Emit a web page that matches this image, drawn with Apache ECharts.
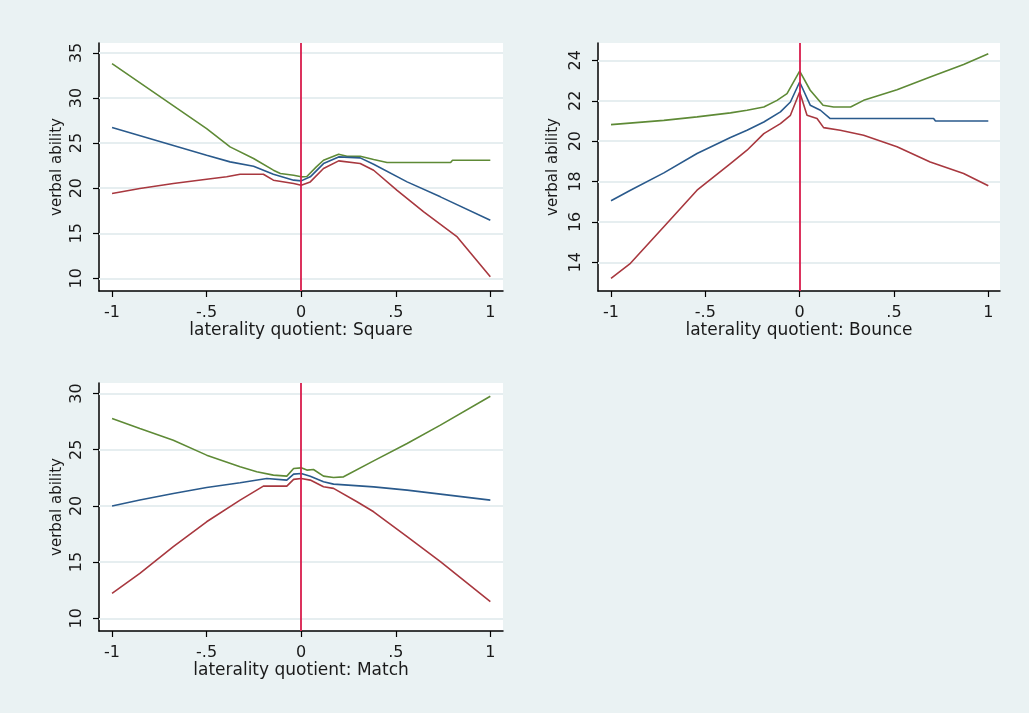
<!DOCTYPE html>
<html>
<head>
<meta charset="utf-8">
<script src="https://cdn.jsdelivr.net/npm/echarts@6/dist/echarts.min.js"></script>
<style>
html,body{margin:0;padding:0;background:#eaf2f3;}
#c{width:1029px;height:713px;}
</style>
</head>
<body>
<div id="c"></div>
<script>
// ---- data ----
const xTicks = [-1, -0.5, 0, 0.5, 1];
const xTickLabels = ['-1', '-.5', '0', '.5', '1'];
const yTicksSquare = [10, 15, 20, 25, 30, 35];
const yTicksBounce = [14, 16, 18, 20, 22, 24];
const yTicksMatch = [10, 15, 20, 25, 30];
const panelTitles = ['laterality quotient: Square', 'laterality quotient: Bounce', 'laterality quotient: Match'];
const yTitle = 'verbal ability';

const squareGreen = [[-1,33.82],[-0.5,26.61],[-0.376,24.58],[-0.252,23.29],[-0.147,22.0],[-0.11,21.63],[-0.04,21.44],[0,21.26],[0.03,21.3],[0.08,22.36],[0.118,23.1],[0.198,23.77],[0.242,23.55],[0.312,23.55],[0.383,23.18],[0.454,22.85],[0.79,22.85],[0.8,23.1],[1,23.1]];
const squareBlue = [[-1,26.73],[-0.5,23.66],[-0.376,22.92],[-0.252,22.44],[-0.147,21.55],[-0.04,20.89],[0,20.81],[0.048,21.26],[0.118,22.73],[0.198,23.47],[0.312,23.36],[0.383,22.66],[0.56,20.7],[0.736,19.04],[1,16.45]];
const squareRed = [[-1,19.41],[-0.853,19.96],[-0.676,20.52],[-0.5,21.0],[-0.394,21.26],[-0.323,21.55],[-0.2,21.55],[-0.147,20.89],[-0.04,20.52],[0,20.33],[0.048,20.7],[0.118,22.18],[0.198,23.03],[0.312,22.73],[0.383,21.99],[0.507,19.77],[0.648,17.37],[0.825,14.6],[1,10.17]];

const bounceGreen = [[-1,20.82],[-0.72,21.03],[-0.544,21.2],[-0.367,21.4],[-0.279,21.53],[-0.19,21.69],[-0.12,22.02],[-0.067,22.35],[0,23.47],[0.056,22.52],[0.124,21.78],[0.18,21.69],[0.27,21.69],[0.339,22.02],[0.516,22.55],[0.692,23.18],[0.869,23.8],[1,24.33]];
const bounceBlue = [[-1,17.05],[-0.897,17.57],[-0.72,18.43],[-0.544,19.39],[-0.367,20.18],[-0.279,20.54],[-0.19,20.95],[-0.102,21.45],[-0.049,21.94],[0,22.93],[0.056,21.78],[0.11,21.53],[0.162,21.12],[0.339,21.12],[0.71,21.12],[0.72,21.0],[1,21.0]];
const bounceRed = [[-1,13.21],[-0.897,13.95],[-0.72,15.76],[-0.544,17.57],[-0.367,18.89],[-0.279,19.55],[-0.19,20.37],[-0.102,20.87],[-0.049,21.28],[0,22.43],[0.039,21.28],[0.092,21.12],[0.127,20.67],[0.215,20.54],[0.339,20.29],[0.516,19.72],[0.692,18.97],[0.869,18.4],[1,17.79]];

const matchGreen = [[-1,27.78],[-0.853,26.89],[-0.676,25.85],[-0.5,24.52],[-0.323,23.48],[-0.235,23.04],[-0.147,22.74],[-0.076,22.65],[-0.04,23.33],[0,23.39],[0.03,23.19],[0.065,23.24],[0.118,22.65],[0.171,22.53],[0.224,22.59],[0.383,24.01],[0.56,25.56],[0.736,27.19],[1,29.76]];
const matchBlue = [[-1,19.99],[-0.853,20.52],[-0.676,21.11],[-0.5,21.64],[-0.323,22.06],[-0.182,22.44],[-0.076,22.3],[-0.04,22.83],[0,22.89],[0.048,22.65],[0.118,22.15],[0.171,21.94],[0.383,21.7],[0.56,21.41],[0.736,21.05],[1,20.52]];
const matchRed = [[-1,12.22],[-0.853,14.0],[-0.676,16.37],[-0.5,18.59],[-0.323,20.52],[-0.2,21.76],[-0.076,21.76],[-0.04,22.36],[0,22.44],[0.048,22.3],[0.118,21.7],[0.171,21.56],[0.295,20.37],[0.383,19.48],[0.56,17.26],[0.736,15.04],[1,11.48]];

// ---- chart ----
const FONT = 'DejaVu Sans';
const TXT = '#1a1a1a';
const COL = {green: '#5e8a36', blue: '#2a5a8c', red: '#a8383f', vline: '#d81c4c', grid: '#e6eef0'};

const grids = [
  {left: 99, top: 43, width: 404, height: 248},
  {left: 598, top: 43, width: 402, height: 248},
  {left: 99, top: 383, width: 404, height: 248}
];
const yRanges = [[8.6, 36.1], [12.58, 24.86], [8.87, 30.94]];
const yTickSets = [yTicksSquare, yTicksBounce, yTicksMatch];
const xRanges = [[-1.069, 1.067], [-1.069, 1.062], [-1.069, 1.067]];
const panelSeries = [
  [squareGreen, squareBlue, squareRed],
  [bounceGreen, bounceBlue, bounceRed],
  [matchGreen, matchBlue, matchRed]
];

const xAxes = [], yAxes = [], series = [];
grids.forEach((g, i) => {
  xAxes.push({
    type: 'value', gridIndex: i, min: xRanges[i][0], max: xRanges[i][1],
    name: panelTitles[i], nameLocation: 'middle', nameGap: 28,
    nameTextStyle: {fontFamily: FONT, fontSize: 17, color: TXT},
    axisLine: {show: true, onZero: false, lineStyle: {color: '#000', width: 1.5}},
    axisTick: {show: true, length: 6, customValues: xTicks, lineStyle: {color: '#000', width: 1.2}},
    axisLabel: {customValues: xTicks, margin: 14, fontFamily: FONT, fontSize: 16, color: TXT,
      formatter: v => { const k = xTicks.findIndex(t => Math.abs(t - v) < 1e-9); return k >= 0 ? xTickLabels[k] : ''; }},
    splitLine: {show: false}
  });
  yAxes.push({
    type: 'value', gridIndex: i, min: yRanges[i][0], max: yRanges[i][1],
    name: yTitle, nameLocation: 'middle', nameGap: i === 1 ? 37 : 34, nameRotate: 90,
    nameTextStyle: {fontFamily: FONT, fontSize: 15, color: TXT},
    axisLine: {show: true, onZero: false, lineStyle: {color: '#000', width: 1.5}},
    axisTick: {show: true, length: 6, customValues: yTickSets[i], lineStyle: {color: '#000', width: 1.2}},
    axisLabel: {customValues: yTickSets[i], rotate: 90, margin: 14, fontFamily: FONT, fontSize: 16, color: TXT},
    splitLine: {show: false}
  });
  // gridlines (below data)
  series.push({
    type: 'line', xAxisIndex: i, yAxisIndex: i, data: [], silent: true, z: 1,
    markLine: {
      silent: true, symbol: 'none', animation: false, label: {show: false}, z: 1,
      lineStyle: {color: COL.grid, width: 2, type: 'solid'},
      data: yTickSets[i].map(v => ({yAxis: v}))
    }
  });
  const cols = [COL.green, COL.blue, COL.red];
  panelSeries[i].forEach((d, j) => {
    series.push({
      type: 'line', xAxisIndex: i, yAxisIndex: i, data: d, showSymbol: false, z: 3,
      lineStyle: {color: cols[j], width: 1.6}, itemStyle: {color: cols[j]}, animation: false
    });
  });
  // vertical reference line at 0 (above data)
  series.push({
    type: 'line', xAxisIndex: i, yAxisIndex: i, data: [], silent: true, z: 6,
    markLine: {
      silent: true, symbol: 'none', animation: false, label: {show: false}, z: 6,
      lineStyle: {color: COL.vline, width: 1.8, type: 'solid'},
      data: [{xAxis: 0}]
    }
  });
});

const chart = echarts.init(document.getElementById('c'));
chart.setOption({
  backgroundColor: '#eaf2f3',
  animation: false,
  grid: grids.map(g => Object.assign({backgroundColor: '#ffffff', show: true, borderWidth: 0}, g)),
  xAxis: xAxes,
  yAxis: yAxes,
  series: series
});
</script>
</body>
</html>
